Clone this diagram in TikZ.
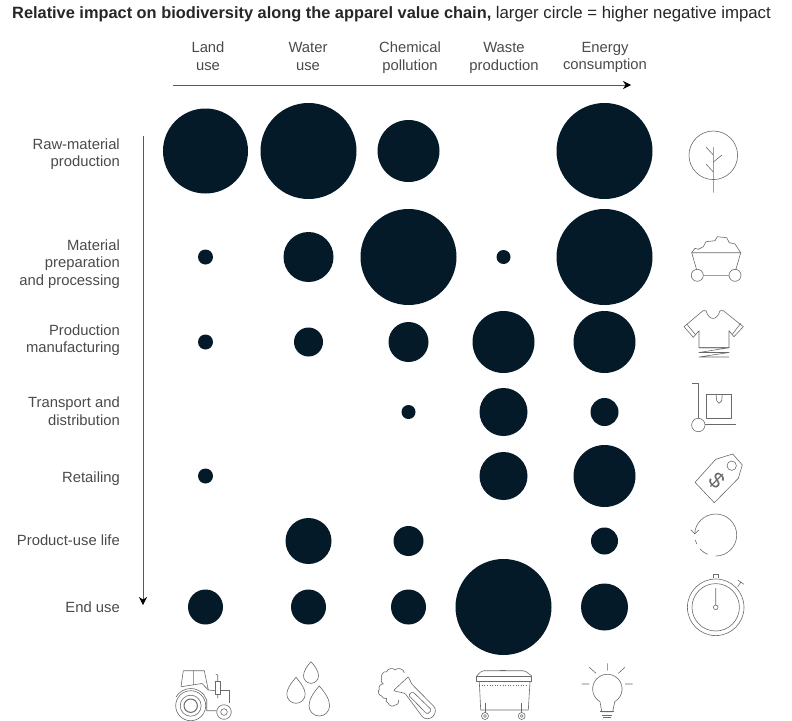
\documentclass[tikz,border=0pt]{standalone}
\usepackage{fontspec}
\setmainfont{Liberation Sans}
\usetikzlibrary{arrows.meta,positioning}
\definecolor{navy}{HTML}{041A29}
\definecolor{labelgray}{HTML}{4A4A4A}
\definecolor{icongray}{HTML}{6A6A6A}
\tikzset{
  bubble/.style={circle,fill=navy,draw=none,inner sep=0pt,minimum size=#1},
  collabel/.style={align=center,inner sep=0pt,font=\fontsize{14.8}{17.8}\selectfont,text=labelgray,anchor=center},
  rowlabel/.style={align=right,inner sep=0pt,font=\fontsize{14.8}{17.5}\selectfont,text=labelgray,anchor=east},
  axisline/.style={draw=black!65,line width=0.7pt,-{Stealth[length=8pt,width=8pt,black]}},
  icon/.style={draw=icongray,line width=0.6pt,line join=round}
}
\begin{document}
\begin{tikzpicture}[x=1pt,y=-1pt]
  \useasboundingbox (0,0) rectangle (792,720);
  \node[anchor=base west,inner sep=0pt,text=black!85] (title) at (12,18)
    {\fontsize{16.36}{18}\selectfont\textbf{Relative impact on biodiversity along the apparel value chain,} \fontsize{16.8}{18}\selectfont larger circle = higher negative impact};

  % column heads
  \node[collabel] (land) at (208,56.5) {Land\\use};
  \node[collabel] (water) at (308,56.5) {Water\\use};
  \node[collabel] (chem) at (410,58) {Chemical\\pollution};
  \node[collabel] (waste) at (504,58) {Waste\\production};
  \node[collabel] (energy) at (605,57.5) {Energy\\consumption};
  \coordinate (hstart) at (173,85);
  \coordinate (hend) at (631,85);
  \draw[axisline] (hstart) -- (hend);

  % row heads
  \node[rowlabel] (raw) at (120,154) {Raw-material\\production};
  \node[rowlabel] (prep) at (120,264) {Material\\preparation\\and processing};
  \node[rowlabel] (manu) at (120,340) {Production\\manufacturing};
  \node[rowlabel] (trans) at (120,411) {Transport and\\distribution};
  \node[rowlabel] (retail) at (120,478.5) {Retailing};
  \node[rowlabel] (life) at (120,540) {Product-use life};
  \node[rowlabel] (endu) at (120,607) {End use};
  \coordinate (vstart) at (143,136);
  \coordinate (vend) at (143,605);
  \draw[axisline] (vstart) -- (vend);

  % raw material
  \node[bubble=85pt] (a1) at (205.5,151) {};
  \node[bubble=96pt] (a2) at (308.5,151) {};
  \node[bubble=62pt] (a3) at (408.5,151) {};
  \node[bubble=96pt] (a5) at (604.5,151) {};
  % preparation
  \node[bubble=15pt] (b1) at (205.5,257) {};
  \node[bubble=50pt] (b2) at (308.5,257) {};
  \node[bubble=96pt] (b3) at (408.5,257) {};
  \node[bubble=14pt] (b4) at (503.5,257) {};
  \node[bubble=96pt] (b5) at (604.5,257) {};
  % manufacturing
  \node[bubble=15pt] (c1) at (205.5,342) {};
  \node[bubble=29pt] (c2) at (308.5,342) {};
  \node[bubble=40pt] (c3) at (408.5,342) {};
  \node[bubble=62pt] (c4) at (503.5,342) {};
  \node[bubble=62pt] (c5) at (604.5,342) {};
  % transport
  \node[bubble=14pt] (d3) at (408.5,412) {};
  \node[bubble=48pt] (d4) at (503.5,412) {};
  \node[bubble=28pt] (d5) at (604.5,412) {};
  % retail
  \node[bubble=15pt] (e1) at (205.5,476) {};
  \node[bubble=48pt] (e4) at (503.5,476) {};
  \node[bubble=62pt] (e5) at (604.5,476) {};
  % use life
  \node[bubble=46pt] (f2) at (308.5,541) {};
  \node[bubble=30pt] (f3) at (408.5,541) {};
  \node[bubble=27pt] (f5) at (604.5,541) {};
  % end use
  \node[bubble=35pt] (g1) at (205.5,607) {};
  \node[bubble=35pt] (g2) at (308.5,607) {};
  \node[bubble=35pt] (g3) at (408.5,607) {};
  \node[bubble=96pt] (g4) at (503.5,607) {};
  \node[bubble=47pt] (g5) at (604.5,607) {};

  % tree
  \draw[icon] (713.3,155.3) circle (24.3);
  \draw[icon] (713.3,192.7) -- (713.3,147) (713.3,155) -- (706,147) (713.3,162) -- (722,155) (713.3,172) -- (706,164);
  % cart
  \draw[icon] (691.7,252.7) -- (740.7,252.7) -- (735.7,270) (691.7,252.7) -- (696.7,270) (703.3,275.3) -- (729,275.3);
  \draw[icon] (697.3,275.3) circle (6) (735,275.3) circle (6);
  \draw[icon] (691.7,252.7) -- (695,248.3) -- (698.3,249.3) -- (703.3,246.7) -- (706,241.7) -- (715,240.7) -- (717.3,236.7) -- (726.7,237.7) -- (729.3,242.7) -- (735,244) -- (740.7,252.7);
  % shirt
  \draw[icon] (706,310.7) .. controls (709,321) and (717,321) .. (720,310.7) -- (723.3,310.7) -- (743.3,326.7) -- (734,336.7) -- (729,330.7) -- (729,347.7) -- (699,347.7) -- (699,330.7) -- (693.3,337.3) -- (684,326.7) -- (703,310.7) -- cycle;
  \draw[icon] (686.7,324) -- (695.7,335) (740.7,323.3) -- (732.3,334.3);
  \draw[icon] (699,347.7) -- (729,347.7) -- (699,352.5) -- (729,352.5) -- (699,357) -- (729,357);
  % trolley
  \draw[icon] (692,383.3) -- (698.7,383.3) -- (698.7,418.3);
  \draw[icon] (698.3,425) circle (6.7);
  \draw[icon] (705,424) -- (736,424);
  \draw[icon] (706.7,394) rectangle (731.7,418.3);
  \draw[icon] (716,394) -- (716.7,400.7) -- (719,403.3) -- (721.7,400.7) -- (722.3,394);
  % tag
  \draw[icon] (695,482.3) -- (715.7,459.3) -- (732.7,454) -- (742.3,465) -- (738.3,478.3) -- (714.3,502.7) -- cycle;
  \draw[icon] (731.7,465.7) circle (4.7);
  \node[rotate=-45,font=\fontsize{22}{22}\selectfont,text=icongray,inner sep=0pt] (dollar) at (716.7,481) {\$};
  % cycle
  \coordinate (cyc) at (715.7,535);
  \draw[icon,-{Straight Barb[length=4pt,width=8pt]}] (cyc) ++(90:21) arc[start angle=90,end angle=-178,radius=21];
  \draw[icon] (cyc) ++(113:21) arc[start angle=113,end angle=138,radius=21];
  \draw[icon] (cyc) ++(155:21) arc[start angle=155,end angle=166,radius=21];
  % stopwatch
  \draw[icon] (715.7,607.3) circle (28.3);
  \draw[icon] (715.7,607.3) circle (23.7);
  \draw[icon] (715.7,607.3) circle (2.3) (715.7,605) -- (715.7,588);
  \draw[icon] (713.3,578.3) -- (713.3,574) -- (718.7,574) -- (718.7,578.3);
  \draw[icon] (737.7,586.7) -- (740.7,582.3) (737.7,580) -- (744,584.3);

  % tractor
  \draw[icon,line width=1pt] (190.7,705.7) circle (6.7);
  \draw[icon] (190.7,705.7) circle (10.5);
  \draw[icon] (190.7,705.7) circle (15);
  \draw[icon] (176,697) arc[start angle=-150,end angle=-40,radius=17] -- (206.7,700) -- (206.7,710.7) -- (216.7,710.7);
  \draw[icon] (224,712) circle (7.3) (224,712) circle (3.3);
  \draw[icon] (183.3,670.7) -- (204.3,670.7) -- (208.3,690) -- (215.3,690.7);
  \draw[icon] (183.3,670.7) -- (181,686.7) (193.3,670.7) -- (193.3,685) (181,686.7) -- (202,683.5) -- (208.3,690);
  \draw[icon] (215.3,681) rectangle (220.3,694.3);
  \draw[icon] (217.7,681) -- (217.7,675) -- (215.7,674) (217.7,694.3) -- (217.7,698);
  \draw[icon] (220.3,690.7) -- (229.3,690.7) -- (229.3,702.7);
  % drops
  \draw[icon] (311,661.7) .. controls (307,666) and (303.5,671) .. (303.5,675.8) arc[start angle=180,end angle=0,radius=7.5] .. controls (318.5,671) and (315,666) .. (311,661.7) -- cycle;
  \draw[icon] (296,677.3) .. controls (291,683) and (286.8,689) .. (286.8,694.1) arc[start angle=180,end angle=0,radius=9.2] .. controls (305.2,689) and (301,683) .. (296,677.3) -- cycle;
  \draw[icon] (319.3,686) .. controls (314,692) and (309,699) .. (309,705.7) arc[start angle=180,end angle=0,radius=10.3] .. controls (329.6,699) and (324.6,692) .. (319.3,686) -- cycle;
  % flask
  \draw[icon,rounded corners=1pt] (393.3,690.7) -- (408.3,676.7) -- (411.7,684) -- (433,705.5) arc[start angle=-45,end angle=135,radius=7.7] -- (405,693.3) -- cycle;
  \draw[icon,rounded corners=1.5pt] (408.3,695) -- (412.7,691.7) -- (431.7,710) -- (427.3,714.3) -- cycle;
  \draw[icon] (404.3,672.7) to[bend right=70] (395,670) to[bend right=70] (386.7,671.7) to[bend right=70] (381.7,678.3) to[bend right=50] (383.3,684) to[bend right=70] (379.3,689.3) to[bend right=70] (381.7,696) to[bend right=50] (386.7,698.3) to[bend right=70] (388.3,703.3) to[bend right=70] (395,705) to[bend right=70] (398.3,700);
  % bin
  \draw[icon,rounded corners=2pt] (476.7,676) -- (481.7,670.7) -- (525,670.7) -- (531.7,676);
  \draw[icon] (476.7,676) rectangle (531.7,681.7);
  \draw[icon] (479.3,681.7) -- (480.7,710) -- (528.3,710) -- (530,681.7);
  \draw[icon,dotted] (481.7,685) -- (526.7,685);
  \draw[icon,line width=1.2pt] (500,670.7) -- (506,670.7);
  \draw[icon] (485,703.3) -- (485,712.7) (521.7,703.3) -- (521.7,712.7);
  \draw[icon] (485,716) circle (3.5) (485,716) circle (1.5) (521.7,716) circle (3.5) (521.7,716) circle (1.5);
  % bulb
  \draw[icon] (600,701.7) arc[start angle=120,end angle=420,radius=14.7] -- (612.7,711.7) -- (601.7,711.7) -- cycle;
  \draw[icon] (600,711.7) -- (614,711.7) (602.3,715) -- (612.3,715) (603.3,717.7) -- (610.7,717.7);
  \draw[icon] (607.3,663.3) -- (607.3,670.7) (589.3,667.3) -- (596,673.3) (625,667.3) -- (618.3,673.3) (581.7,684) -- (589.3,684) (625,684) -- (632.7,684);
\end{tikzpicture}
\end{document}
